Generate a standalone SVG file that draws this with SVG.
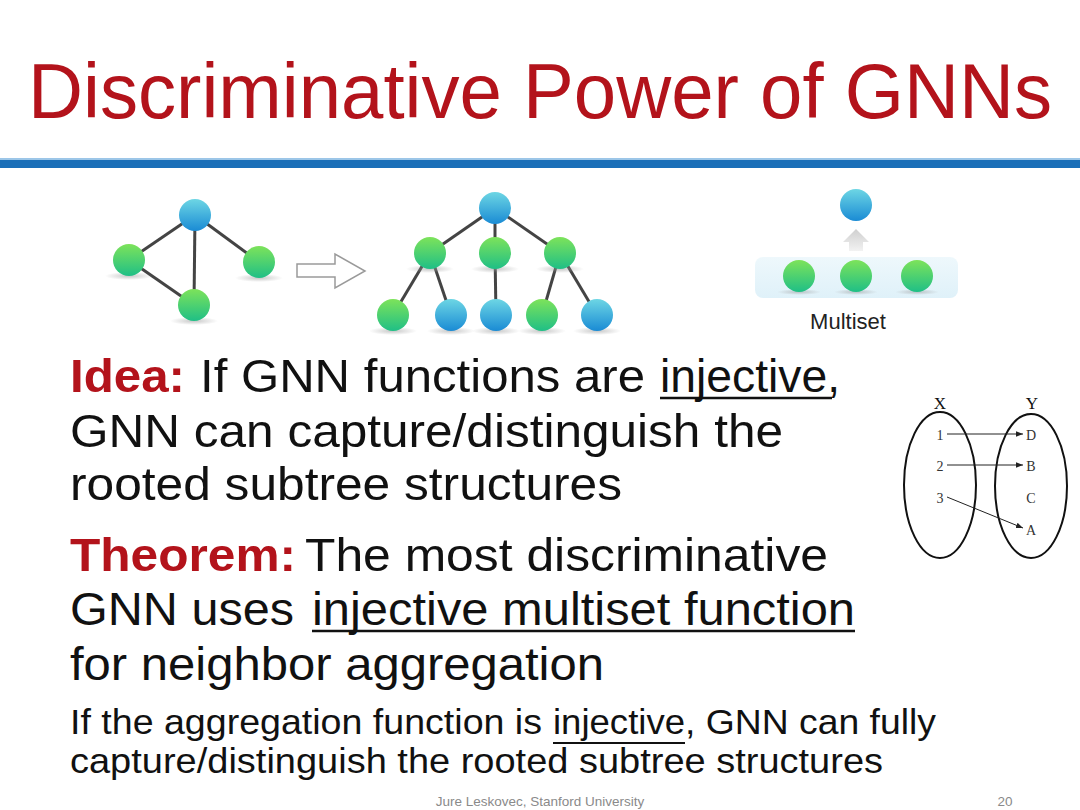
<svg xmlns="http://www.w3.org/2000/svg" width="1080" height="810" viewBox="0 0 1080 810">
<defs>
<linearGradient id="gG" x1="0" y1="0" x2="0" y2="1">
<stop offset="0" stop-color="#7de35a"/>
<stop offset="1" stop-color="#1fbf86"/>
</linearGradient>
<linearGradient id="gB" x1="0" y1="0" x2="0" y2="1">
<stop offset="0" stop-color="#6dd6e4"/>
<stop offset="1" stop-color="#1a8bd4"/>
</linearGradient>
<radialGradient id="sh" cx="0.5" cy="0.5" r="0.5">
<stop offset="0" stop-color="#999" stop-opacity="0.55"/>
<stop offset="1" stop-color="#999" stop-opacity="0"/>
</radialGradient>
<linearGradient id="msBg" x1="0" y1="0" x2="0" y2="1">
<stop offset="0" stop-color="#eef8fc"/>
<stop offset="1" stop-color="#dff1f9"/>
</linearGradient>
<linearGradient id="upArr" x1="0" y1="0" x2="0" y2="1">
<stop offset="0" stop-color="#cfcfcf"/>
<stop offset="1" stop-color="#f2f2f2"/>
</linearGradient>
<marker id="ah" viewBox="0 0 10 10" refX="10" refY="5" markerWidth="7" markerHeight="7" orient="auto" markerUnits="userSpaceOnUse">
<path d="M0,1 L10,5 L0,9 z" fill="#222"/>
</marker>
<style>
.t{font-family:"Liberation Sans",Arial,sans-serif;fill:#111}
.big{font-size:47px}
.red{fill:#b3131b;font-weight:bold}
.sm{font-size:35px}
.edge{stroke:#444;stroke-width:3;fill:none}
.ser{font-family:"Liberation Serif","Times New Roman",serif;fill:#333;font-size:14px;text-anchor:middle}
.ul{stroke:#111;stroke-width:2.5}
</style>
</defs>
<rect width="1080" height="810" fill="#ffffff"/>

<g id="title">
<text x="28" y="118" class="t" font-size="78" style="fill:#b3131b" textLength="1024" lengthAdjust="spacingAndGlyphs">Discriminative Power of GNNs</text>
<rect x="0" y="158" width="1080" height="2" fill="#9cc6e8"/>
<rect x="0" y="160" width="1080" height="8" fill="#1b6fb8"/>
</g>

<g id="connectors">
<line class="edge" x1="195" y1="215" x2="129" y2="260"/>
<line class="edge" x1="195" y1="215" x2="259" y2="262"/>
<line class="edge" x1="195" y1="215" x2="194" y2="305"/>
<line class="edge" x1="129" y1="260" x2="194" y2="305"/>
<line class="edge" x1="495" y1="208" x2="430" y2="253"/>
<line class="edge" x1="495" y1="208" x2="495" y2="253"/>
<line class="edge" x1="495" y1="208" x2="560" y2="253"/>
<line class="edge" x1="430" y1="253" x2="393" y2="315"/>
<line class="edge" x1="430" y1="253" x2="451" y2="315"/>
<line class="edge" x1="495" y1="253" x2="496" y2="315"/>
<line class="edge" x1="560" y1="253" x2="542" y2="315"/>
<line class="edge" x1="560" y1="253" x2="597" y2="315"/>
</g>

<g id="graph-left">
<ellipse cx="129" cy="276" rx="24" ry="4" fill="url(#sh)"/>
<ellipse cx="259" cy="278" rx="24" ry="4" fill="url(#sh)"/>
<ellipse cx="194" cy="321" rx="24" ry="4" fill="url(#sh)"/>
<circle id="g-root" cx="195" cy="215" r="16" fill="url(#gB)"/>
<circle id="g-left" cx="129" cy="260" r="16" fill="url(#gG)"/>
<circle id="g-right" cx="259" cy="262" r="16" fill="url(#gG)"/>
<circle id="g-bottom" cx="194" cy="305" r="16" fill="url(#gG)"/>
</g>

<g id="transform-arrow">
<path d="M297,264 L335,264 L335,254 L365,271 L335,288 L335,277 L297,277 Z" fill="#fff" stroke="#9a9a9a" stroke-width="1.5"/>
</g>

<g id="tree">
<ellipse cx="430" cy="269" rx="24" ry="4" fill="url(#sh)"/>
<ellipse cx="495" cy="269" rx="24" ry="4" fill="url(#sh)"/>
<ellipse cx="560" cy="269" rx="24" ry="4" fill="url(#sh)"/>
<ellipse cx="393" cy="331" rx="24" ry="4" fill="url(#sh)"/>
<ellipse cx="451" cy="331" rx="24" ry="4" fill="url(#sh)"/>
<ellipse cx="496" cy="331" rx="24" ry="4" fill="url(#sh)"/>
<ellipse cx="542" cy="331" rx="24" ry="4" fill="url(#sh)"/>
<ellipse cx="597" cy="331" rx="24" ry="4" fill="url(#sh)"/>
<circle cx="495" cy="208" r="16" fill="url(#gB)"/>
<circle cx="430" cy="253" r="16" fill="url(#gG)"/>
<circle cx="495" cy="253" r="16" fill="url(#gG)"/>
<circle cx="560" cy="253" r="16" fill="url(#gG)"/>
<circle cx="393" cy="315" r="16" fill="url(#gG)"/>
<circle cx="451" cy="315" r="16" fill="url(#gB)"/>
<circle cx="496" cy="315" r="16" fill="url(#gB)"/>
<circle cx="542" cy="315" r="16" fill="url(#gG)"/>
<circle cx="597" cy="315" r="16" fill="url(#gB)"/>
</g>

<g id="multiset">
<rect x="755" y="257" width="203" height="41" rx="8" fill="url(#msBg)"/>
<path d="M849,251 L849,242 L843,242 L856,229 L869,242 L863,242 L863,251 Z" fill="url(#upArr)"/>
<circle cx="856" cy="205" r="16" fill="url(#gB)"/>
<ellipse cx="799" cy="292" rx="22" ry="3" fill="url(#sh)"/>
<ellipse cx="856" cy="292" rx="22" ry="3" fill="url(#sh)"/>
<ellipse cx="917" cy="292" rx="22" ry="3" fill="url(#sh)"/>
<circle cx="799" cy="276" r="16" fill="url(#gG)"/>
<circle cx="856" cy="276" r="16" fill="url(#gG)"/>
<circle cx="917" cy="276" r="16" fill="url(#gG)"/>
<text x="848" y="329" class="t" font-size="22" text-anchor="middle" style="fill:#222">Multiset</text>
</g>

<g id="mapping">
<ellipse cx="940" cy="485" rx="36" ry="73" fill="none" stroke="#111" stroke-width="2"/>
<ellipse cx="1031" cy="486" rx="36" ry="72" fill="none" stroke="#111" stroke-width="2"/>
<text x="940" y="409" class="ser" style="font-size:17px;fill:#111">X</text>
<text x="1032" y="409" class="ser" style="font-size:17px;fill:#111">Y</text>
<text x="940" y="440" class="ser">1</text>
<text x="940" y="471" class="ser">2</text>
<text x="940" y="503" class="ser">3</text>
<text x="1031" y="440" class="ser">D</text>
<text x="1031" y="471" class="ser">B</text>
<text x="1031" y="503" class="ser">C</text>
<text x="1031" y="535" class="ser">A</text>
<line x1="947" y1="434" x2="1023" y2="434" stroke="#222" stroke-width="1" marker-end="url(#ah)"/>
<line x1="947" y1="465" x2="1023" y2="465" stroke="#222" stroke-width="1" marker-end="url(#ah)"/>
<line x1="947" y1="497" x2="1023" y2="528" stroke="#222" stroke-width="1" marker-end="url(#ah)"/>
</g>

<g id="idea">
<text x="70" y="392" class="t big red" textLength="115" lengthAdjust="spacingAndGlyphs">Idea:</text>
<text x="200" y="392" class="t big" textLength="445" lengthAdjust="spacingAndGlyphs">If GNN functions are</text>
<text x="660" y="392" class="t big" textLength="180" lengthAdjust="spacingAndGlyphs">injective,</text>
<line class="ul" x1="660" y1="398" x2="832" y2="398"/>
<text x="70" y="447" class="t big" textLength="713" lengthAdjust="spacingAndGlyphs">GNN can capture/distinguish the</text>
<text x="70" y="500" class="t big" textLength="552" lengthAdjust="spacingAndGlyphs">rooted subtree structures</text>
</g>

<g id="theorem">
<text x="70" y="571" class="t big red" textLength="226" lengthAdjust="spacingAndGlyphs">Theorem:</text>
<text x="305" y="571" class="t big" textLength="523" lengthAdjust="spacingAndGlyphs">The most discriminative</text>
<text x="70" y="625" class="t big" textLength="224" lengthAdjust="spacingAndGlyphs">GNN uses</text>
<text x="312" y="625" class="t big" textLength="543" lengthAdjust="spacingAndGlyphs">injective multiset function</text>
<line class="ul" x1="312" y1="631" x2="855" y2="631"/>
<text x="70" y="680" class="t big" textLength="534" lengthAdjust="spacingAndGlyphs">for neighbor aggregation</text>
</g>

<g id="note">
<text x="70" y="734" class="t sm" textLength="472" lengthAdjust="spacingAndGlyphs">If the aggregation function is</text>
<text x="553" y="734" class="t sm" textLength="132" lengthAdjust="spacingAndGlyphs">injective</text>
<line stroke="#111" stroke-width="2" x1="553" y1="743" x2="685" y2="743"/>
<text x="685" y="734" class="t sm" textLength="251" lengthAdjust="spacingAndGlyphs">, GNN can fully</text>
<text x="70" y="773" class="t sm" textLength="813" lengthAdjust="spacingAndGlyphs">capture/distinguish the rooted subtree structures</text>
</g>

<g id="footer">
<text x="540" y="806" class="t" font-size="13.5" text-anchor="middle" style="fill:#8a8a8a">Jure Leskovec, Stanford University</text>
<text x="1005" y="806" class="t" font-size="13.5" text-anchor="middle" style="fill:#8a8a8a">20</text>
</g>
</svg>
